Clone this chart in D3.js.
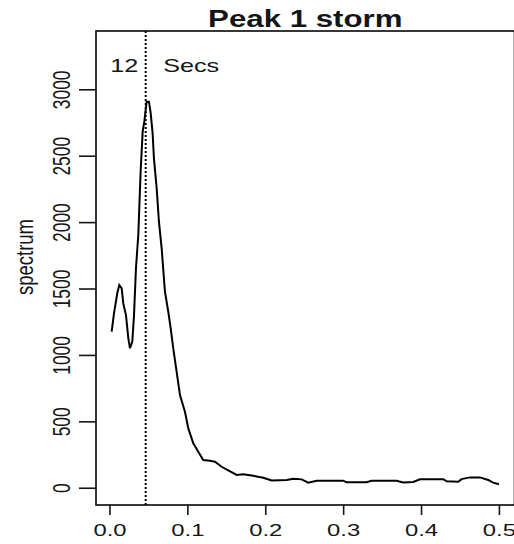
<!DOCTYPE html>
<html>
<head>
<meta charset="utf-8">
<script src="https://cdn.jsdelivr.net/npm/d3@7"></script>
<style>
  html, body { margin: 0; padding: 0; background: #fff; }
  svg { display: block; }
  text { font-family: "Liberation Sans", Arial, sans-serif; fill: #151515; }
</style>
</head>
<body>
<script>
// Smoothed periodogram of the storm record
const freq = [0.0028, 0.0058, 0.0100, 0.0126, 0.0157, 0.0177, 0.0212, 0.0242, 0.0263, 0.0293,
  0.0315, 0.0340, 0.0370, 0.0400, 0.0426, 0.0448, 0.0477, 0.0507, 0.0529, 0.0554,
  0.0571, 0.0606, 0.0635, 0.0670, 0.0712, 0.0755, 0.0786, 0.0819, 0.0862, 0.0905,
  0.0969, 0.1012, 0.1076, 0.1140, 0.1204, 0.1290, 0.1354, 0.1440, 0.1525, 0.1633,
  0.1718, 0.1846, 0.1974, 0.2082, 0.2275, 0.2360, 0.2467, 0.2552, 0.2660, 0.3000,
  0.3045, 0.3300, 0.3366, 0.3687, 0.3770, 0.3900, 0.3986, 0.4285, 0.4329, 0.4478,
  0.4520, 0.4628, 0.4756, 0.4863, 0.4927, 0.5000];
const spectrum = [1175, 1313, 1464, 1526, 1501, 1388, 1300, 1125, 1050, 1100,
  1300, 1652, 1903, 2380, 2680, 2760, 2907, 2907, 2820, 2668,
  2480, 2254, 2003, 1803, 1476, 1325, 1200, 1050, 874, 698,
  572, 447, 334, 271, 209, 203, 196, 158, 130, 96,
  101, 90, 75, 55, 58, 68, 63, 38, 53, 53,
  41, 41, 53, 53, 40, 43, 64, 64, 48, 45,
  65, 78, 78, 58, 38, 26];
const xTicks = [0, 0.1, 0.2, 0.3, 0.4, 0.5];
const yTicks = [0, 500, 1000, 1500, 2000, 2500, 3000];
const peakFreq = 0.0465;
const peakLabel = ["12", "Secs"];
const title = "Peak 1 storm";
const yLabel = "spectrum";

const W = 514, H = 544;
const box = { left: 96, right: 514.5, top: 31, bottom: 505 };
const stretch = 1.37;   // wide-set lettering

const svg = d3.select("body").append("svg").attr("width", W).attr("height", H);

const x = d3.scaleLinear().domain([-0.0173, 0.52]).range([box.left, box.right]);
const y = d3.scaleLinear().domain([-130, 3439]).range([box.bottom, box.top]);

// x axis
const gx = svg.append("g").attr("transform", `translate(0,${box.bottom})`)
  .call(d3.axisBottom(x).tickValues(xTicks).tickFormat(d3.format(".1f")).tickSize(10).tickSizeOuter(0));
gx.select(".domain").remove();
gx.selectAll(".tick line").attr("stroke", "#151515").attr("stroke-width", 1.6);
gx.selectAll(".tick text")
  .attr("y", 0).attr("dy", 0)
  .attr("font-size", 17.4).attr("fill", "#151515")
  .attr("font-family", null)
  .attr("transform", `translate(0,31) scale(${stretch},1)`);

// y axis with rotated labels
const gy = svg.append("g").attr("transform", `translate(${box.left},0)`)
  .call(d3.axisLeft(y).tickValues(yTicks).tickFormat(d3.format("d")).tickSize(17).tickSizeOuter(0));
gy.select(".domain").remove();
gy.selectAll(".tick line").attr("stroke", "#151515").attr("stroke-width", 1.6);
gy.selectAll(".tick text")
  .attr("x", 0).attr("y", 0).attr("dy", 0)
  .attr("text-anchor", "middle")
  .attr("font-size", 17.4).attr("fill", "#151515")
  .attr("font-family", null)
  .attr("transform", `translate(-26,0) scale(${stretch},1) rotate(-90)`);

svg.selectAll(".tick text").style("font-family", "'Liberation Sans', Arial, sans-serif");

// plot frame
svg.append("rect")
  .attr("x", box.left).attr("y", box.top)
  .attr("width", box.right - box.left).attr("height", box.bottom - box.top)
  .attr("fill", "none").attr("stroke", "#151515").attr("stroke-width", 1.7);

// spectrum curve
const pts = freq.map((f, i) => [f, spectrum[i]]);
svg.append("path")
  .datum(pts)
  .attr("fill", "none").attr("stroke", "#000").attr("stroke-width", 2)
  .attr("stroke-linejoin", "miter")
  .attr("d", d3.line().x(d => x(d[0])).y(d => y(d[1])));

// peak frequency marker
svg.append("line")
  .attr("x1", x(peakFreq)).attr("x2", x(peakFreq))
  .attr("y1", box.top).attr("y2", box.bottom)
  .attr("stroke", "#000").attr("stroke-width", 2)
  .attr("stroke-dasharray", "2,2");

svg.append("text")
  .attr("text-anchor", "end")
  .attr("font-size", 18.4)
  .attr("transform", `translate(${x(peakFreq) - 7.5},71.5) scale(${stretch},1)`)
  .text(peakLabel[0]);
svg.append("text")
  .attr("text-anchor", "start")
  .attr("font-size", 18.4)
  .attr("transform", `translate(${x(peakFreq) + 17.5},71.5) scale(${stretch},1)`)
  .text(peakLabel[1]);

// title
svg.append("text")
  .attr("text-anchor", "middle")
  .attr("font-size", 23.5).attr("font-weight", "bold")
  .attr("transform", `translate(${(box.left + box.right) / 2},27.3) scale(${stretch * 0.97},1)`)
  .text(title);

// y label
svg.append("text")
  .attr("text-anchor", "middle")
  .attr("font-size", 18.5)
  .attr("transform", `translate(33,257) scale(${stretch * 0.92},1) rotate(-90)`)
  .text(yLabel);
</script>
</body>
</html>
